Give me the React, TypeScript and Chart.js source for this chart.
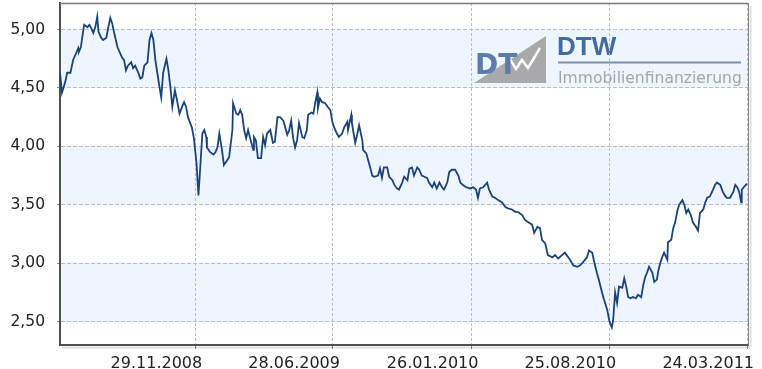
import React, { useEffect, useRef } from "react";
import { Chart, registerables } from "chart.js";

Chart.register(...registerables);

// days since 29.11.2008
const dayOffsets = [
  -207, -204, -199, -196, -191, -188, -187, -182, -179, -178, -175, -173, -170, -165, -162, -159, -156, -153, -150, -148,
  -144, -141, -136, -133, -130, -127, -124, -119, -116, -112, -109, -106, -103, -98, -95, -92, -87, -84, -81, -78,
  -73, -70, -67, -64, -61, -58, -55, -52, -49, -44, -41, -38, -35, -31, -28, -24, -20, -17, -14, -11,
  -5, -2, 2, 5, 8, 11, 14, 17, 18, 23, 28, 31, 34, 37, 41, 44, 49, 52, 57, 58,
  63, 66, 69, 72, 75, 78, 81, 86, 89, 90, 93, 96, 101, 104, 107, 110, 115, 119, 122, 126,
  130, 135, 138, 141, 144, 147, 150, 153, 156, 159, 164, 167, 171, 173, 178, 181, 184, 187, 188, 191,
  194, 199, 204, 207, 210, 213, 217, 220, 225, 228, 233, 234, 239, 240, 245, 248, 251, 256, 257, 262,
  265, 268, 271, 274, 280, 283, 286, 289, 294, 297, 302, 305, 309, 312, 317, 320, 325, 328, 332, 335,
  340, 343, 347, 351, 355, 358, 363, 366, 370, 374, 378, 381, 386, 389, 393, 398, 403, 406, 410, 415,
  421, 426, 430, 433, 436, 441, 447, 450, 455, 459, 464, 470, 475, 479, 485, 490, 494, 501, 505, 510,
  516, 519, 524, 528, 531, 536, 540, 547, 551, 556, 566, 574, 579, 585, 589, 594, 600, 603, 608, 611,
  615, 618, 623, 626, 631, 634, 638, 640, 643, 646, 649, 654, 657, 660, 663, 667, 670, 675, 678, 683,
  686, 689, 692, 695, 700, 703, 707, 709, 712, 715, 718, 723, 724, 729, 732, 735, 738, 741, 746, 749,
  752, 755, 759, 762, 767, 770, 773, 778, 781, 784, 788, 793, 796, 799, 804, 808, 811, 814, 819, 824,
  827, 830, 833, 836, 837, 840, 843, 845,
];

const yields = [
  4.63, 4.46, 4.55, 4.63, 4.63, 4.71, 4.74, 4.80, 4.84, 4.81, 4.85, 4.93, 5.04, 5.02, 5.04, 5.01, 4.97, 5.02, 5.11, 4.98,
  4.93, 4.91, 4.93, 5.02, 5.10, 5.05, 4.97, 4.85, 4.81, 4.76, 4.74, 4.65, 4.69, 4.72, 4.67, 4.69, 4.63, 4.58, 4.59, 4.69,
  4.72, 4.91, 4.97, 4.91, 4.74, 4.63, 4.52, 4.42, 4.63, 4.75, 4.65, 4.51, 4.34, 4.48, 4.40, 4.28, 4.34, 4.38, 4.34, 4.25,
  4.16, 4.07, 3.86, 3.58, 3.84, 4.11, 4.14, 4.08, 3.99, 3.95, 3.93, 3.95, 3.99, 4.11, 3.97, 3.84, 3.88, 3.91, 4.14, 4.37,
  4.28, 4.27, 4.31, 4.27, 4.14, 4.07, 4.14, 4.03, 3.97, 4.08, 4.05, 3.90, 3.90, 4.08, 4.01, 4.11, 4.14, 4.03, 4.04, 4.25,
  4.25, 4.22, 4.16, 4.10, 4.14, 4.22, 4.07, 3.99, 4.05, 4.20, 4.08, 4.07, 4.14, 4.27, 4.29, 4.28, 4.38, 4.46, 4.33, 4.41,
  4.38, 4.37, 4.33, 4.31, 4.21, 4.16, 4.11, 4.08, 4.11, 4.16, 4.21, 4.14, 4.27, 4.20, 4.03, 4.10, 4.18, 4.05, 3.97, 3.94,
  3.88, 3.82, 3.75, 3.74, 3.75, 3.81, 3.73, 3.82, 3.82, 3.74, 3.71, 3.67, 3.64, 3.63, 3.69, 3.74, 3.71, 3.81, 3.82, 3.75,
  3.82, 3.80, 3.75, 3.74, 3.73, 3.69, 3.65, 3.69, 3.64, 3.69, 3.65, 3.63, 3.69, 3.78, 3.80, 3.80, 3.75, 3.69, 3.67, 3.65,
  3.64, 3.65, 3.63, 3.56, 3.64, 3.65, 3.69, 3.63, 3.57, 3.56, 3.54, 3.52, 3.48, 3.47, 3.46, 3.44, 3.44, 3.41, 3.37, 3.35,
  3.33, 3.26, 3.31, 3.30, 3.20, 3.17, 3.07, 3.05, 3.07, 3.04, 3.09, 3.03, 2.98, 2.97, 2.98, 3.01, 3.05, 3.11, 3.09, 3.01,
  2.92, 2.86, 2.75, 2.69, 2.60, 2.51, 2.45, 2.51, 2.75, 2.66, 2.80, 2.79, 2.87, 2.80, 2.71, 2.70, 2.71, 2.70, 2.73, 2.71,
  2.81, 2.88, 2.92, 2.97, 2.92, 2.84, 2.86, 2.93, 3.00, 3.05, 3.09, 3.03, 3.18, 3.20, 3.30, 3.35, 3.44, 3.50, 3.54, 3.50,
  3.43, 3.46, 3.41, 3.35, 3.31, 3.28, 3.43, 3.46, 3.52, 3.56, 3.57, 3.63, 3.67, 3.69, 3.67, 3.61, 3.58, 3.56, 3.56, 3.61,
  3.67, 3.65, 3.61, 3.52, 3.63, 3.65, 3.67, 3.68,
];

const xTickDays = [0, 211, 423, 634, 845];
const xTickLabels = ["29.11.2008", "28.06.2009", "26.01.2010", "25.08.2010", "24.03.2011"];
const yTickValues = [2.5, 3.0, 3.5, 4.0, 4.5, 5.0];

const logoMark = "DT";
const logoName = "DTW";
const logoSubtitle = "Immobilienfinanzierung";

const FONT = "'DejaVu Sans', 'Liberation Sans', Arial, sans-serif";

const bandsAndLogo = {
  id: "bandsAndLogo",
  beforeDraw(chart: any) {
    const { ctx, chartArea, scales } = chart;
    const y = scales.y;
    ctx.save();
    ctx.fillStyle = "#ffffff";
    ctx.fillRect(chartArea.left, chartArea.top, chartArea.right - chartArea.left, chartArea.bottom - chartArea.top);
    ctx.fillStyle = "#eef5fc";
    for (let i = 0; i + 1 < yTickValues.length; i += 2) {
      const y1 = y.getPixelForValue(yTickValues[i]);
      const y2 = y.getPixelForValue(yTickValues[i + 1]);
      ctx.fillRect(chartArea.left, y2, chartArea.right - chartArea.left, y1 - y2);
    }
    // logo graphic
    ctx.fillStyle = "#a9a9ab";
    ctx.beginPath();
    ctx.moveTo(474, 83);
    ctx.lineTo(546, 36);
    ctx.lineTo(546, 83);
    ctx.closePath();
    ctx.fill();
    ctx.strokeStyle = "#ffffff";
    ctx.lineWidth = 2.5;
    ctx.beginPath();
    ctx.moveTo(508, 56);
    ctx.lineTo(516, 69);
    ctx.lineTo(522, 60);
    ctx.lineTo(528, 68);
    ctx.lineTo(540, 48);
    ctx.stroke();
    ctx.fillStyle = "#5a7ea9";
    ctx.font = "bold 28px " + FONT;
    ctx.textBaseline = "alphabetic";
    ctx.textAlign = "left";
    ctx.fillText(logoMark, 475, 74);
    ctx.fillStyle = "#426ca1";
    ctx.font = "bold 26px 'Liberation Sans', Arial, sans-serif";
    ctx.fillText(logoName, 557, 55);
    ctx.strokeStyle = "#7e90a8";
    ctx.lineWidth = 2;
    ctx.beginPath();
    ctx.moveTo(558, 62.5);
    ctx.lineTo(741, 62.5);
    ctx.stroke();
    ctx.fillStyle = "#a6a6a8";
    ctx.font = "10px " + FONT;
    const w = ctx.measureText(logoSubtitle).width;
    const size = (10 * 184) / w;
    ctx.font = size.toFixed(2) + "px " + FONT;
    ctx.fillText(logoSubtitle, 558, 83);
    ctx.restore();
  },
  afterDraw(chart: any) {
    const { ctx, chartArea } = chart;
    ctx.save();
    ctx.strokeStyle = "#7a7a7a";
    ctx.lineWidth = 1.5;
    ctx.beginPath();
    ctx.moveTo(chartArea.left, chartArea.top + 0.5);
    ctx.lineTo(chartArea.right, chartArea.top + 0.5);
    ctx.stroke();
    ctx.strokeStyle = "#8c8c8c";
    ctx.lineWidth = 1;
    ctx.beginPath();
    ctx.moveTo(chartArea.right + 0.5, chartArea.top);
    ctx.lineTo(chartArea.right + 0.5, chartArea.bottom);
    ctx.stroke();
    // soft shadow
    ctx.strokeStyle = "rgba(0,0,0,0.12)";
    ctx.lineWidth = 2;
    ctx.beginPath();
    ctx.moveTo(chartArea.left + 2, chartArea.bottom + 2.5);
    ctx.lineTo(chartArea.right + 3, chartArea.bottom + 2.5);
    ctx.moveTo(chartArea.right + 2.5, chartArea.top + 3);
    ctx.lineTo(chartArea.right + 2.5, chartArea.bottom + 2);
    ctx.stroke();
    ctx.restore();
  },
};

export default function App() {
  const canvasRef = useRef<HTMLCanvasElement | null>(null);

  useEffect(() => {
    document.body.style.margin = "0";
    const canvas = canvasRef.current;
    if (!canvas) return;
    const points = dayOffsets.map((d, i) => ({ x: d, y: yields[i] }));
    const chart = new Chart(canvas, {
      type: "line",
      data: {
        datasets: [
          {
            data: points,
            borderColor: "#1a4479",
            borderWidth: 1.8,
            pointRadius: 0,
            tension: 0,
            fill: false,
          },
        ],
      },
      options: {
        animation: false,
        responsive: false,
        maintainAspectRatio: false,
        layout: { padding: { top: 3, right: 14, left: 0, bottom: 0 } },
        plugins: { legend: { display: false }, tooltip: { enabled: false } },
        scales: {
          x: {
            type: "linear",
            min: -207,
            max: 846.5,
            afterBuildTicks: (scale: any) => {
              scale.ticks = xTickDays.map((v) => ({ value: v }));
            },
            afterFit: (scale: any) => {
              scale.height = 24;
              scale.paddingLeft = 0;
              scale.paddingRight = 0;
            },
            ticks: {
              autoSkip: false,
              maxRotation: 0,
              align: "end",
              labelOffset: 7,
              padding: 5,
              color: "#222222",
              font: { family: FONT, size: 16 },
              callback: (v: any) => {
                const i = xTickDays.indexOf(Number(v));
                return i >= 0 ? xTickLabels[i] : "";
              },
            },
            grid: {
              color: "#b3bfcf",
              lineWidth: 1,
              tickLength: 4,
              tickColor: "#8a8a8a",
            },
            border: { display: true, color: "#505050", width: 2, dash: [3, 2] },
          },
          y: {
            type: "linear",
            min: 2.3,
            max: 5.227,
            afterBuildTicks: (scale: any) => {
              scale.ticks = yTickValues.map((v) => ({ value: v }));
            },
            afterFit: (scale: any) => {
              scale.width = 60;
              scale.paddingTop = 0;
              scale.paddingBottom = 0;
            },
            ticks: {
              padding: 12,
              color: "#222222",
              font: { family: FONT, size: 15.5 },
              callback: (v: any) => Number(v).toFixed(2).replace(".", ","),
            },
            grid: {
              color: "#b3bfcf",
              lineWidth: 1,
              tickLength: 3,
              tickColor: "#8a8a8a",
            },
            border: { display: true, color: "#505050", width: 2, dash: [4, 2] },
          },
        },
      },
      plugins: [bandsAndLogo],
    });
    return () => chart.destroy();
  }, []);

  return (
    <div style={{ width: 762, height: 369, position: "relative" }}>
      <canvas ref={canvasRef} width={762} height={369} style={{ width: 762, height: 369, display: "block" }} />
    </div>
  );
}
